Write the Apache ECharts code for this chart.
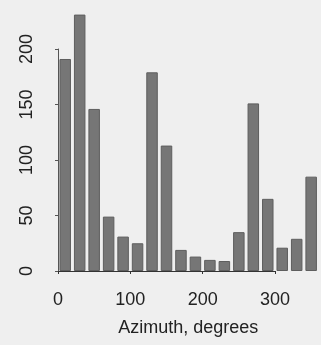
<!DOCTYPE html>
<html>
<head>
<meta charset="utf-8">
<script src="https://cdn.jsdelivr.net/npm/echarts@6/dist/echarts.min.js"></script>
<style>
  html, body { margin: 0; padding: 0; background: #efefef; }
  #chart { width: 321px; height: 345px; }
</style>
</head>
<body>
<div id="chart"></div>
<script>
// Azimuth histogram: 18 bins of 20 degrees each
const binCenters = [10, 30, 50, 70, 90, 110, 130, 150, 170, 190, 210, 230, 250, 270, 290, 310, 330, 350];
const counts = [191, 231, 146, 49, 31, 25, 179, 113, 19, 13, 10, 9, 35, 151, 65, 21, 29, 85];
const xTicks = [0, 100, 200, 300];
const yTicks = [0, 50, 100, 150, 200];

const font = '"Liberation Sans", Arial, sans-serif';
const ink = '#222222';

const chart = echarts.init(document.getElementById('chart'));
chart.setOption({
  backgroundColor: '#efefef',
  animation: false,
  grid: [
    { left: 58, top: 4.6, width: 260.4, height: 266.4 },
    { left: 58, top: 49, width: 217, height: 222 }
  ],
  xAxis: [
    {
      gridIndex: 0, type: 'value', min: 0, max: 360,
      axisLine: { show: false }, axisTick: { show: false },
      axisLabel: { show: false }, splitLine: { show: false },
      name: 'Azimuth, degrees', nameLocation: 'middle', nameGap: 48,
      nameTextStyle: { fontFamily: font, fontSize: 18, color: ink }
    },
    {
      gridIndex: 1, type: 'value',
      min: xTicks[0], max: xTicks[xTicks.length - 1], interval: 100,
      offset: 12,
      axisLine: { show: true, lineStyle: { color: '#333', width: 1 } },
      axisTick: { show: true, length: 3, lineStyle: { color: '#333' } },
      axisLabel: { margin: 8, fontFamily: font, fontSize: 18, color: ink },
      splitLine: { show: false }
    }
  ],
  yAxis: [
    {
      gridIndex: 0, type: 'value', min: 0, max: 240,
      axisLine: { show: false }, axisTick: { show: false },
      axisLabel: { show: false }, splitLine: { show: false }
    },
    {
      gridIndex: 1, type: 'value',
      min: yTicks[0], max: yTicks[yTicks.length - 1], interval: 50,
      offset: 11,
      axisLine: { show: true, lineStyle: { color: '#555', width: 1 } },
      axisTick: { show: true, length: 3, lineStyle: { color: '#555' } },
      axisLabel: { rotate: 90, margin: 11, fontFamily: font, fontSize: 18, color: ink },
      splitLine: { show: false }
    }
  ],
  series: [
    {
      type: 'bar',
      xAxisIndex: 0, yAxisIndex: 0,
      barWidth: 11.5,
      data: binCenters.map((c, i) => [c, counts[i]]),
      itemStyle: { color: '#767676', borderColor: '#5e5e5e', borderWidth: 1 }
    }
  ]
});
</script>
</body>
</html>
